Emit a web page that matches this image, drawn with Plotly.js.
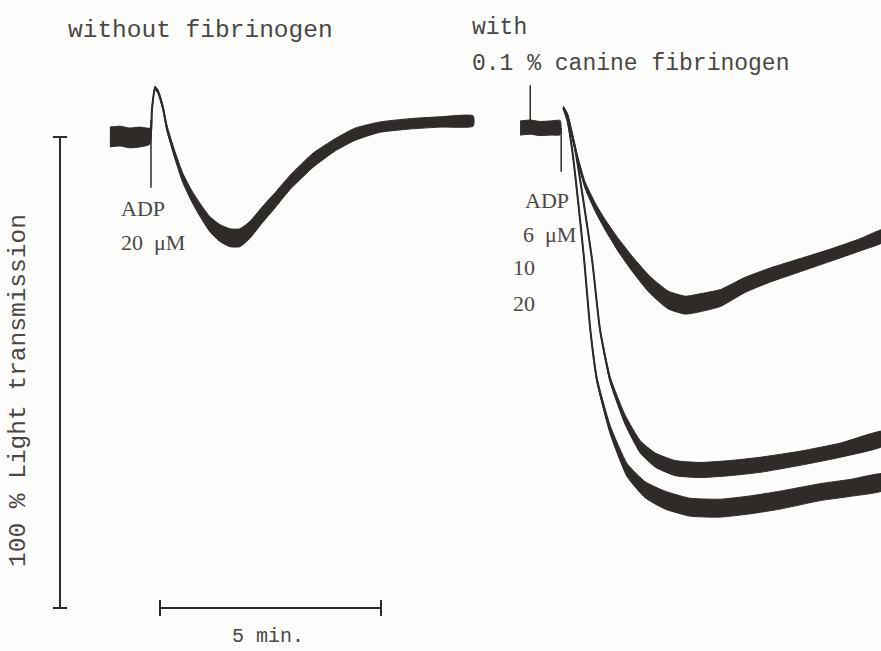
<!DOCTYPE html>
<html>
<head>
<meta charset="utf-8">
<script src="https://cdn.plot.ly/plotly-3.0.1.min.js"></script>
<style>html,body{margin:0;padding:0;background:#fcfcfb;}#chart{width:881px;height:651px;}</style>
</head>
<body>
<div id="chart"></div>
<script>
// ---- Data (time in min after ADP addition, deflection in % light transmission) ----
// Without fibrinogen, ADP 20 uM
const leftT   = [-0.93,-0.70,-0.48,-0.25,-0.02,0.02,0.09,0.16,0.27,0.36,0.54,0.72,0.93,1.11,1.33,1.56,1.79,2.01,2.24,2.51,2.81,3.15,3.67,4.16,4.62,5.18,5.86,6.54,7.29];
const leftY   = [0,0.2,-0.2,0,0.2,5.7,10.4,9.6,6.2,1.9,-3.8,-8.7,-12.7,-15.5,-18.5,-20.4,-21.4,-21.4,-19.7,-16.6,-13.4,-9.6,-4.9,-1.7,0.6,2.1,2.8,3.2,3.4];
const leftNoise = [2.1,2.1,2.1,2.1,1.7,0.4,0.4,0.4,0.5,0.6,0.8,1.0,1.2,1.4,1.6,1.8,1.9,1.9,1.8,1.7,1.6,1.5,1.5,1.3,1.3,1.1,1.1,1.1,1.1];

// With 0.1 % canine fibrinogen: common baseline before ADP
const baseT = [-0.93,-0.70,-0.48,-0.25,-0.02];
const baseY = [1.9,2.1,1.8,1.9,2.0];
const baseNoise = [1.5,1.5,1.5,1.5,1.5];

// ADP 6 uM
const t6 = [0.05,0.14,0.25,0.38,0.54,0.77,1.00,1.29,1.63,2.01,2.42,2.81,3.14,3.60,4.16,4.73,5.41,6.09,6.76,7.33];
const y6 = [6.2,4.7,0.4,-4.9,-10.2,-14.9,-18.7,-22.9,-27.2,-31.4,-34.6,-35.7,-35.2,-34.2,-31.4,-29.3,-27.2,-25.1,-22.9,-20.8];
const n6 = [0.3,0.3,0.4,0.5,0.7,0.9,1.1,1.4,1.6,1.8,1.9,1.9,1.9,1.8,1.6,1.5,1.4,1.3,1.3,1.3];

// ADP 10 uM
const t10 = [0.05,0.16,0.32,0.50,0.70,0.88,1.11,1.45,1.79,2.13,2.58,3.14,3.82,4.50,5.41,6.31,7.33];
const y10 = [6.2,3.6,-2.8,-13.4,-26.1,-41.0,-51.6,-60.1,-65.8,-68.6,-70.3,-70.7,-70.3,-69.6,-68.2,-66.5,-63.9];
const n10 = [0.2,0.2,0.2,0.2,0.2,0.3,0.6,1.0,1.3,1.5,1.6,1.6,1.6,1.6,1.5,1.5,1.5];

// ADP 20 uM
const t20 = [0.05,0.14,0.25,0.38,0.52,0.66,0.81,1.11,1.49,1.90,2.35,2.92,3.60,4.28,4.95,5.86,6.54,7.33];
const y20 = [6.2,3.6,-2.8,-13.4,-26.1,-41.0,-51.6,-62.2,-70.7,-74.9,-77.1,-78.6,-78.8,-78.1,-77.1,-75.4,-74.5,-73.2];
const n20 = [0.2,0.2,0.2,0.2,0.2,0.3,0.5,0.9,1.4,1.7,1.9,1.9,1.9,1.9,1.9,1.8,1.8,1.7];

// Labels
const leftTitle = "without fibrinogen";
const rightTitle1 = "with";
const rightTitle2 = "0.1 % canine fibrinogen";
const yScaleLabel = "100 % Light transmission";
const xScaleLabel = "5 min.";
const doseLabels = ["6  \u03bcM", "10", "20"];
const SCALE_MIN = 5, SCALE_PCT = 100;

// ---- Layout constants ----
const RIGHT_OFFSET = 9.28;   // min offset of second recording
const W = 881, H = 651;
const ink = "#2e2b29", textCol = "#4a4744";

function band(t, y, n, off, name) {
  const xs = [], ys = [];
  for (let i = 0; i < t.length; i++) { xs.push(t[i] + off); ys.push(y[i] + n[i]); }
  for (let i = t.length - 1; i >= 0; i--) { xs.push(t[i] + off); ys.push(y[i] - n[i]); }
  return [{
    x: xs, y: ys, mode: "lines", fill: "toself", fillcolor: ink,
    line: {color: ink, width: 1, shape: "spline", smoothing: 0.5}, hoverinfo: "skip", name: name
  }, {
    x: t.map(v => v + off), y: y, mode: "lines",
    line: {color: ink, width: 2, shape: "spline", smoothing: 0.5}, name: name
  }];
}

const traces = [].concat(
  band(leftT, leftY, leftNoise, 0, "ADP 20 \u03bcM (no fibrinogen)"),
  band(baseT, baseY, baseNoise, RIGHT_OFFSET, "baseline"),
  band(t6, y6, n6, RIGHT_OFFSET, "6 \u03bcM"),
  band(t10, y10, n10, RIGHT_OFFSET, "10 \u03bcM"),
  band(t20, y20, n20, RIGHT_OFFSET, "20 \u03bcM")
);

const px2t = p => (p - 151) / 44.2;
const py2y = p => (137 - p) / 4.71;
const xRange = [px2t(0), px2t(W)];
const yRange = [py2y(H), py2y(0)];

const lineShape = (x0, y0, x1, y1, w) => ({type: "line", xref: "x", yref: "y", x0, y0, x1, y1,
  line: {color: ink, width: w || 1.5}});

const barX = px2t(60), capW = 0.16;
const barY = -SCALE_PCT, hx0 = px2t(160), capH = 1.7;
const shapes = [
  // 100 % scale bar
  lineShape(barX, 0, barX, -SCALE_PCT, 2),
  lineShape(barX - capW, 0, barX + capW, 0, 2),
  lineShape(barX - capW, -SCALE_PCT, barX + capW, -SCALE_PCT, 2),
  // 5 min scale bar
  lineShape(hx0, barY, hx0 + SCALE_MIN, barY, 2),
  lineShape(hx0, barY - capH, hx0, barY + capH, 2),
  lineShape(hx0 + SCALE_MIN, barY - capH, hx0 + SCALE_MIN, barY + capH, 2),
  // ADP addition marks
  lineShape(0, 3.6, 0, -10.8, 1.5),
  lineShape(RIGHT_OFFSET, 1.9, RIGHT_OFFSET, -7.4, 1.5),
  lineShape(RIGHT_OFFSET - 0.70, 11.0, RIGHT_OFFSET - 0.70, 2.5, 1.5)
];

const monoFam = "Liberation Mono, DejaVu Sans Mono, monospace";
const mono = {family: monoFam, size: 23, color: textCol};
const serif = {family: "Liberation Serif, DejaVu Serif, serif", size: 22, color: textCol};
const ann = (text, px, py, font, xa, extra) => Object.assign({
  text, xref: "paper", yref: "paper", x: px / W, y: 1 - py / H, xanchor: xa || "left", yanchor: "middle",
  showarrow: false, font
}, extra || {});

const annotations = [
  ann(leftTitle, 66, 30, {family: monoFam, size: 24.5, color: textCol}),
  ann(rightTitle1, 470, 28, mono),
  ann(rightTitle2, 470, 64, mono),
  ann(yScaleLabel, 18, 391, {family: monoFam, size: 24.5, color: textCol}, "center", {textangle: -90}),
  ann(xScaleLabel, 268, 636, {family: monoFam, size: 20, color: textCol}, "center"),
  ann("ADP", 119, 208, serif),
  ann("20  \u03bcM", 119, 242, serif),
  ann("ADP", 523, 200, serif),
  ann(doseLabels[0], 521, 234, serif),
  ann(doseLabels[1], 511, 268, serif),
  ann(doseLabels[2], 511, 303, serif)
];

const layout = {
  width: W, height: H, margin: {l: 0, r: 0, t: 0, b: 0},
  paper_bgcolor: "#fcfcfb", plot_bgcolor: "#fcfcfb", showlegend: false,
  xaxis: {range: xRange, visible: false, fixedrange: true},
  yaxis: {range: yRange, visible: false, fixedrange: true},
  shapes, annotations
};

Plotly.newPlot("chart", traces, layout, {staticPlot: true, displayModeBar: false});
</script>
</body>
</html>
